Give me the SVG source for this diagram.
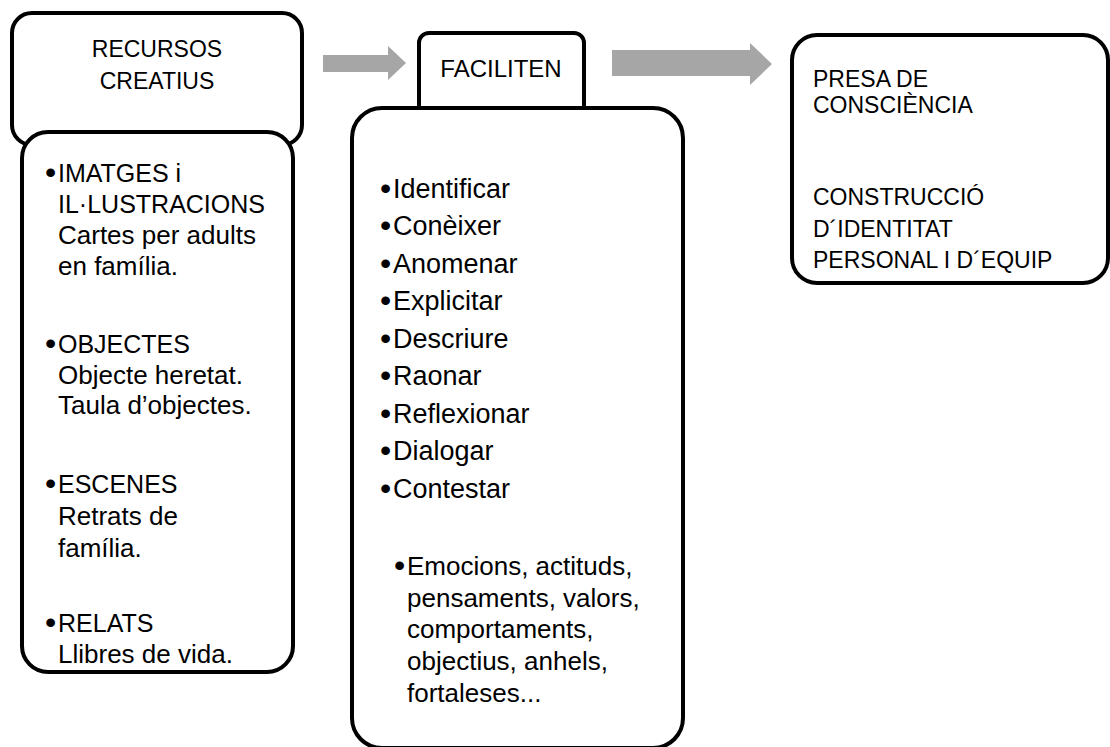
<svg xmlns="http://www.w3.org/2000/svg" width="1110" height="747" viewBox="0 0 1110 747">
<style>
.box{fill:#fff;stroke:#000;stroke-width:4}
.arrow{fill:#a6a6a6;stroke:none}
text{font-family:"Liberation Sans",Arial,sans-serif;fill:#000}
.t23{font-size:23px}
.t24{font-size:24px}
.t25{font-size:25px}
.t26{font-size:26px}
.t27{font-size:27px}
.b{font-size:32px}
.c{text-anchor:middle}
</style>
<rect width="1110" height="747" fill="#fff"/>
<g id="connectors">
<polygon class="arrow" points="323,55 388,55 388,46 406,63 388,80 388,72 323,72"/>
<polygon class="arrow" points="612,50 750,50 750,43 772,64 750,85 750,76 612,76"/>
</g>
<g id="recursos">
<rect class="box" x="12" y="13" width="290" height="132" rx="20"/>
<text class="t23 c" x="157" y="57">RECURSOS</text>
<text class="t23 c" x="157" y="89">CREATIUS</text>
</g>
<g id="recursos-list">
<rect class="box" x="22" y="132" width="271" height="540" rx="26"/>
<g class="t25">
<text class="b" x="45" y="183">•</text><text x="58" y="182">IMATGES i</text>
<text x="58" y="213">IL·LUSTRACIONS</text>
<text x="58" y="244" class="t26">Cartes per adults</text>
<text x="58" y="275" class="t26">en família.</text>
<text class="b" x="45" y="354">•</text><text x="58" y="353">OBJECTES</text>
<text x="58" y="384" class="t26">Objecte heretat.</text>
<text x="58" y="414" class="t26">Taula d’objectes.</text>
<text class="b" x="45" y="494">•</text><text x="58" y="493">ESCENES</text>
<text x="58" y="525" class="t26">Retrats de</text>
<text x="58" y="557" class="t26">família.</text>
<text class="b" x="45" y="633">•</text><text x="58" y="632">RELATS</text>
<text x="58" y="663" class="t26">Llibres de vida.</text>
</g>
</g>
<g id="faciliten">
<rect class="box" x="419" y="33" width="165" height="100" rx="10"/>
<text class="t24 c" x="501" y="77">FACILITEN</text>
</g>
<g id="faciliten-list">
<rect class="box" x="352" y="108" width="331" height="640" rx="30"/>
<g class="t27">
<text class="b" x="380" y="199">•</text><text x="393" y="198">Identificar</text>
<text class="b" x="380" y="236">•</text><text x="393" y="235">Conèixer</text>
<text class="b" x="380" y="274">•</text><text x="393" y="273">Anomenar</text>
<text class="b" x="380" y="311">•</text><text x="393" y="310">Explicitar</text>
<text class="b" x="380" y="349">•</text><text x="393" y="348">Descriure</text>
<text class="b" x="380" y="386">•</text><text x="393" y="385">Raonar</text>
<text class="b" x="380" y="424">•</text><text x="393" y="423">Reflexionar</text>
<text class="b" x="380" y="461">•</text><text x="393" y="460">Dialogar</text>
<text class="b" x="380" y="499">•</text><text x="393" y="498">Contestar</text>
</g>
<g class="t26">
<text class="b" x="394" y="576">•</text><text x="407" y="575">Emocions, actituds,</text>
<text x="407" y="607">pensaments, valors,</text>
<text x="407" y="638">comportaments,</text>
<text x="407" y="670">objectius, anhels,</text>
<text x="407" y="702">fortaleses...</text>
</g>
</g>
<g id="presa">
<rect class="box" x="792" y="35" width="316" height="248" rx="25"/>
<g class="t23">
<text x="813" y="87">PRESA DE</text>
<text x="813" y="113">CONSCIÈNCIA</text>
<text x="813" y="205">CONSTRUCCIÓ</text>
<text x="813" y="237">D´IDENTITAT</text>
<text x="813" y="268">PERSONAL I D´EQUIP</text>
</g>
</g>
</svg>
